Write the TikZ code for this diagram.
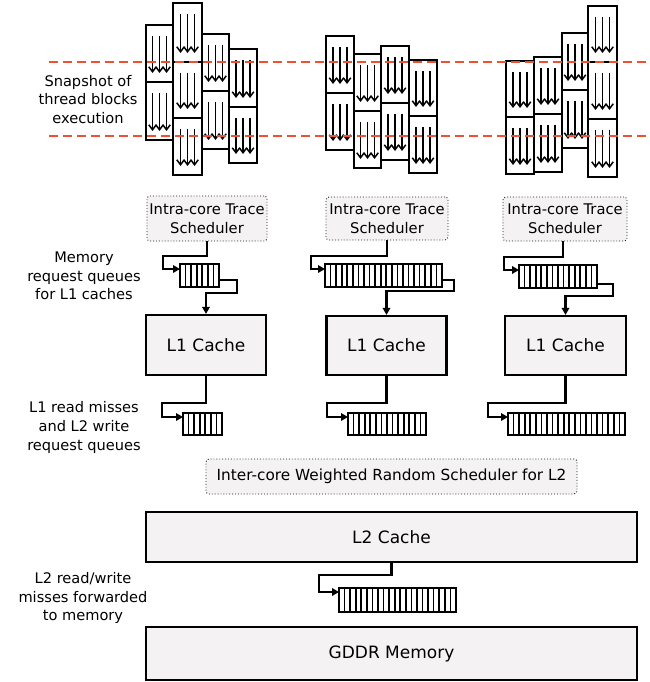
\documentclass[tikz,border=0pt]{standalone}
\usepackage{fontspec}
\setmainfont{DejaVu Sans}
\usetikzlibrary{arrows.meta,calc}
\definecolor{boxfill}{RGB}{244,242,242}
\definecolor{dashred}{RGB}{238,80,50}
\newcommand\tblock[5]{%
  \node[tblk, anchor=north west, minimum width={#4-#2}, minimum height={#5-#3}] (#1) at (#2,#3) {};
  \foreach \ddx in {-7,0,7}{\draw[tarr] ([xshift=\ddx pt,yshift=-11pt]#1.north) -- ([xshift=\ddx pt,yshift=9pt]#1.south);}
}
\newcommand\queue[5]{%
  \node[qbox, anchor=north west, minimum width={#4*5.57}, minimum height={#5}] (#1) at (#2,#3) {};
  \pgfmathtruncatemacro\qlast{#4-1}
  \foreach \k in {1,...,\qlast}{%
    \pgfmathsetmacro\qlw{ifthenelse(mod(\k,7)==0,2.0,1.6)}
    \draw[line width=\qlw pt] ([xshift=\k*5.57pt]#1.north west) -- ([xshift=\k*5.57pt]#1.south west);}
}
\begin{document}
\begin{tikzpicture}[x=1pt,y=-1pt,
  tblk/.style={draw, line width=2.8pt, fill=white, inner sep=0pt, outer sep=0pt},
  tarr/.style={line width=1.5pt, -{Straight Barb[length=5pt,width=7.5pt]}},
  qbox/.style={draw, line width=1.9pt, fill=white, inner sep=0pt, outer sep=0pt},
  sched/.style={draw=black!90, dotted, line width=0.9pt, rounded corners=3pt, fill=boxfill,
    align=center, inner sep=0pt, font=\fontsize{14.7}{19}\selectfont},
  cache/.style={draw, line width=2.2pt, fill=boxfill, inner sep=0pt, font=\fontsize{17}{20}\selectfont},
  lbl/.style={align=center, inner sep=0pt, font=\fontsize{14.6}{18.7}\selectfont},
  conn/.style={line width=2.2pt, -{Triangle[length=7pt,width=7.5pt]}},
  reddash/.style={draw=dashred, line width=1.8pt, dash pattern=on 9pt off 5pt}
]
\useasboundingbox (0,0) rectangle (649,682);

% ---------- thread blocks, column 1 ----------
\tblock{a1}{146}{25}{173}{82}
\tblock{a2}{146}{82}{173}{140}
\tblock{b1}{173}{3}{202}{62}
\tblock{b2}{173}{62}{202}{118}
\tblock{b3}{173}{118}{202}{175}
\tblock{c1}{202}{34}{229}{91}
\tblock{c2}{202}{91}{229}{149}
\tblock{d1}{229}{49}{257}{107}
\tblock{d2}{229}{107}{257}{163}
% ---------- column 2 ----------
\tblock{e1}{326}{36}{354}{93}
\tblock{e2}{326}{93}{354}{150}
\tblock{f1}{354}{54}{381}{111}
\tblock{f2}{354}{111}{381}{168}
\tblock{g1}{381}{46}{409}{103}
\tblock{g2}{381}{103}{409}{160}
\tblock{h1}{409}{60}{437}{116}
\tblock{h2}{409}{116}{437}{173}
% ---------- column 3 ----------
\tblock{i1}{506}{61}{534}{117}
\tblock{i2}{506}{117}{534}{174}
\tblock{j1}{534}{57}{562}{114}
\tblock{j2}{534}{114}{562}{172}
\tblock{k1}{562}{33}{588}{90}
\tblock{k2}{562}{90}{588}{148}
\tblock{l1}{588}{6}{617}{62}
\tblock{l2}{588}{62}{617}{119}
\tblock{l3}{588}{119}{617}{177}

% ---------- snapshot lines ----------
\coordinate (dA1) at (49,62);  \coordinate (dA2) at (646,62);
\coordinate (dB1) at (49,136); \coordinate (dB2) at (646,136);
\draw[reddash] (dA1) -- (dA2);
\draw[reddash] (dB1) -- (dB2);

% ---------- left labels ----------
\node[lbl] (t1) at (88,99.5) {Snapshot of\\thread blocks\\execution};
\node[lbl] (t2) at (84,276) {Memory\\request queues\\for L1 caches};
\node[lbl] (t3) at (84,427.5) {L1 read misses\\and L2 write\\request queues};
\node[lbl] (t4) at (83,598) {L2 read/write\\misses forwarded\\to memory};

% ---------- schedulers ----------
\node[sched, minimum width=120pt, minimum height=45pt] (s1) at (207,218.5) {Intra-core Trace\\Scheduler};
\node[sched, minimum width=122pt, minimum height=43pt] (s2) at (387,218.5) {Intra-core Trace\\Scheduler};
\node[sched, minimum width=124pt, minimum height=44pt] (s3) at (565,219) {Intra-core Trace\\Scheduler};

% ---------- memory request queues ----------
\queue{q1}{180}{264}{7}{23}
\queue{q2}{325}{264}{21}{23}
\queue{q3}{519}{265}{14}{23}

% ---------- L1 caches ----------
\node[cache, minimum width=120pt, minimum height=60pt] (L1a) at (206,345) {L1 Cache};
\node[cache, minimum width=120pt, minimum height=59pt] (L1b) at (386.5,345.5) {L1 Cache};
\node[cache, minimum width=121pt, minimum height=59pt] (L1c) at (565.5,345.5) {L1 Cache};

% ---------- L1 miss queues ----------
\queue{m1}{183}{413}{7}{22}
\queue{m2}{348}{413}{14}{22}
\queue{m3}{508}{413}{21}{22}

% ---------- inter-core scheduler, L2, memory ----------
\node[sched, minimum width=371pt, minimum height=35pt, font=\fontsize{15.3}{19}\selectfont] (ic) at (391.5,476.5) {Inter-core Weighted Random Scheduler for L2};
\node[cache, minimum width=491pt, minimum height=50pt] (L2) at (391.5,537) {L2 Cache};
\queue{mq}{339}{588}{21}{24}
\node[cache, minimum width=491pt, minimum height=53pt] (mem) at (391.5,653.5) {GDDR Memory};

% ---------- bend points ----------
\coordinate (sb1) at (163,256);
\coordinate (sb2) at (311,256);
\coordinate (sb3) at (504,257);
\coordinate (qr1) at (237,293);
\coordinate (qr2) at (454,291);
\coordinate (qr3) at (613,296);
\coordinate (lb1) at (162,403);
\coordinate (lb2) at (327,403);
\coordinate (lb3) at (488,403);
\coordinate (l2b) at (319,575);

% ---------- connectors ----------
\draw[conn] (s1.south) |- (sb1) |- ([yshift=-5pt]q1.north west);
\draw[conn] (s2.south) |- (sb2) |- ([yshift=-5pt]q2.north west);
\draw[conn] ([xshift=-2pt]s3.south) |- (sb3) |- ([yshift=-5pt]q3.north west);

\draw[conn] ([yshift=7pt]q1.south east) -| (qr1) -| (L1a.north);
\draw[conn] ([yshift=7pt]q2.south east) -| (qr2) -| (L1b.north);
\draw[conn] ([yshift=4pt]q3.south east) -| (qr3) -| (L1c.north);

\draw[conn] (L1a.south) |- (lb1) |- ([yshift=-4pt]m1.north west);
\draw[conn] (L1b.south) |- (lb2) |- ([yshift=-4pt]m2.north west);
\draw[conn] (L1c.south) |- (lb3) |- ([yshift=-4pt]m3.north west);

\draw[conn] (L2.south) |- (l2b) |- ([yshift=-4pt]mq.north west);
\end{tikzpicture}
\end{document}
